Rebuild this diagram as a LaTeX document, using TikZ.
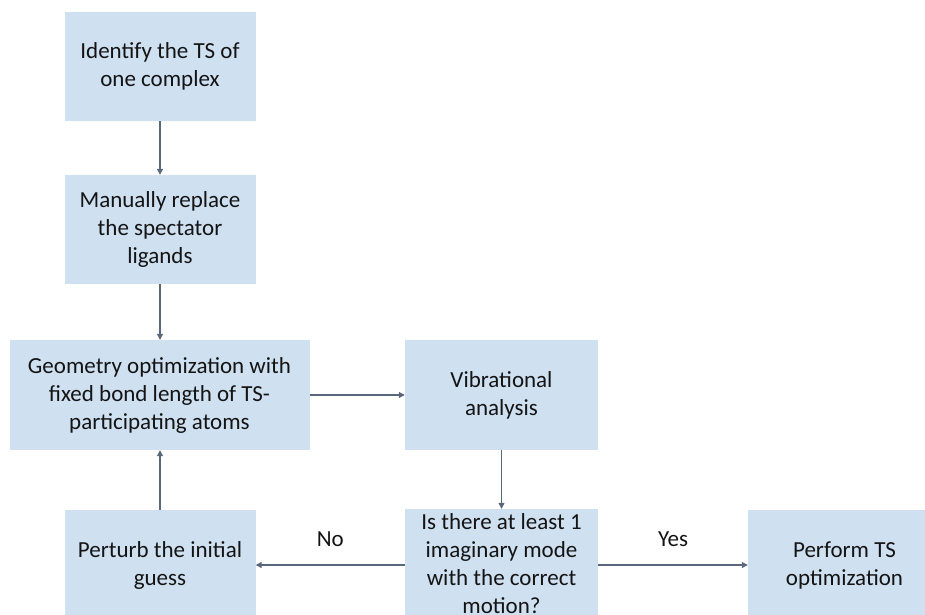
\documentclass[tikz,border=0pt]{standalone}
\usepackage{fontspec}
\setmainfont{Carlito}
\usetikzlibrary{arrows.meta}
\definecolor{boxfill}{RGB}{207,224,241}
\definecolor{arrowcol}{RGB}{90,104,124}
\definecolor{txt}{RGB}{20,20,20}
\begin{document}
\begin{tikzpicture}[x=1pt,y=-1pt,
  box/.style={fill=boxfill, draw=none, align=center, text=txt, inner sep=0pt,
    font=\fontsize{23}{28}\selectfont},
  conn/.style={draw=arrowcol, line width=1.1pt, -{Triangle[length=6pt,width=6pt]}},
  lbl/.style={text=txt, font=\fontsize{23}{28}\selectfont}]
\useasboundingbox (0,0) rectangle (925,614);
\node[box, minimum width=191pt, minimum height=109pt] (identify) at (160,66.5) {Identify the TS of\\one complex};
\node[box, minimum width=191pt, minimum height=109pt] (replace) at (160,229.5) {Manually replace\\the spectator\\ligands};
\node[box, minimum width=300pt, minimum height=110pt] (geom) at (159.5,395) {Geometry optimization with\\fixed bond length of TS-\\participating atoms};
\node[box, minimum width=193pt, minimum height=110pt] (vib) at (501.5,395) {Vibrational\\analysis};
\node[box, minimum width=193pt, minimum height=110pt] (decide) at (501.5,564) {Is there at least 1\\imaginary mode\\with the correct\\motion?};
\node[box, minimum width=191pt, minimum height=110pt] (perturb) at (160,565) {Perturb the initial\\guess};
\node[box, minimum width=193pt, minimum height=110pt] (perform) at (844.5,565) {Perform TS\\optimization};
\draw[conn] (identify) -- (replace);
\draw[conn] (replace) -- (geom.north -| replace);
\draw[conn] (geom) -- (vib);
\draw[conn] (vib) -- (decide);
\draw[conn] (decide.west |- perturb) -- node[lbl, above=14pt] (no) {No} (perturb);
\draw[conn] (decide.east |- perform) -- node[lbl, above=14pt] (yes) {Yes} (perform);
\draw[conn] (perturb) -- (geom.south -| perturb);
\end{tikzpicture}
\end{document}
